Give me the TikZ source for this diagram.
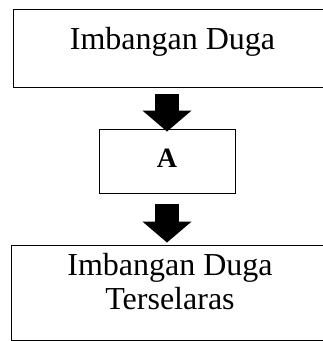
\documentclass[tikz,border=0pt]{standalone}
\usepackage{fontspec}
\setmainfont{Liberation Serif}
\usetikzlibrary{arrows.meta, positioning}

\begin{document}
\begin{tikzpicture}[x=1pt, y=-1pt, line width=0.9pt,
  box/.style = {draw, rectangle, align=center, inner sep=0pt},
  bigarrow/.style = {line width=24pt, -{Triangle[width=48pt, length=21pt]}}]
  \useasboundingbox (0,0) rectangle (323,341);

  \node[box, minimum width=319pt, minimum height=78pt, text height=24pt, text depth=22pt,
        font=\fontsize{32}{34}\selectfont] (duga) at (172.5,48) {Imbangan Duga};
  \node[box, minimum width=136pt, minimum height=64pt, text height=19pt, text depth=7pt,
        font=\fontsize{28}{30}\selectfont\bfseries] (proses) at (167,161) {A};
  \node[box, minimum width=318pt, minimum height=95pt, text depth=23pt,
        font=\fontsize{32}{34}\selectfont] (selaras) at (170,292.5) {Imbangan Duga\\Terselaras};

  \draw[bigarrow] ([yshift=-7pt]proses.north |- duga.south) -- ([yshift=-3pt]proses.north);
  \draw[bigarrow] ([yshift=-11pt]proses.south) -- ([yshift=2pt]proses.south |- selaras.north);
\end{tikzpicture}
\end{document}
